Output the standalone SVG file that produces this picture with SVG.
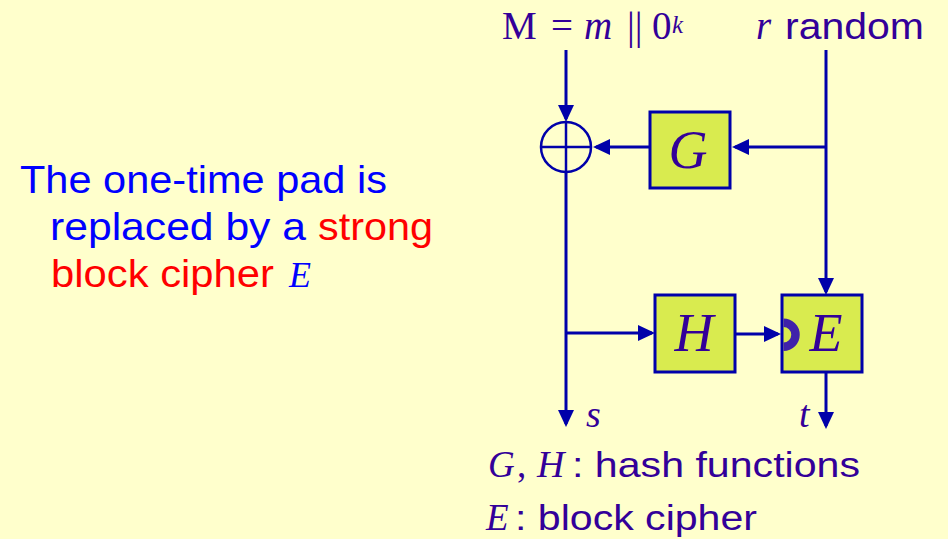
<svg xmlns="http://www.w3.org/2000/svg" width="948" height="539" viewBox="0 0 948 539">
<style>
.sans{font-family:"Liberation Sans",Arial,sans-serif}
.serif{font-family:"Liberation Serif","Times New Roman",serif}
.it{font-style:italic}
.ink{fill:#330099}
.blue{fill:#0000FF}
.red{fill:#FF0000}
.wire{stroke:#0000AA;stroke-width:3;fill:none}
.box{fill:#D9EB4F;stroke:#0000AA;stroke-width:3}
.lbl{font-family:"Liberation Serif","Times New Roman",serif;font-style:italic;font-size:54px;fill:#330099;text-anchor:middle}
</style>
<defs>
<marker id="ah" markerUnits="userSpaceOnUse" markerWidth="17" markerHeight="16" viewBox="0 0 17 16" refX="14" refY="8" orient="auto">
<path d="M0,0 L17,8 L0,16 z" fill="#0000AA"/>
</marker>
</defs>
<rect x="0" y="0" width="948" height="539" fill="#FFFFCC"/>

<g id="caption-left">
<text class="sans blue" x="20" y="193" font-size="39" textLength="367" lengthAdjust="spacingAndGlyphs">The one-time pad is</text>
<text class="sans blue" x="50" y="240" font-size="39" textLength="256" lengthAdjust="spacingAndGlyphs">replaced by a</text>
<text class="sans red" x="318" y="240" font-size="39" textLength="115" lengthAdjust="spacingAndGlyphs">strong</text>
<text class="sans red" x="51" y="287" font-size="39" textLength="223" lengthAdjust="spacingAndGlyphs">block cipher</text>
<text class="serif it blue" x="289" y="287" font-size="36">E</text>
</g>

<g id="input-M">
<text class="serif ink" y="39" font-size="39"><tspan x="502">M</tspan><tspan x="551">=</tspan><tspan x="584" font-style="italic">m</tspan><tspan x="627">||</tspan><tspan x="652">0</tspan><tspan x="672" y="33" font-size="25" font-style="italic">k</tspan></text>
</g>

<g id="input-r">
<text class="serif it ink" x="756" y="39" font-size="39">r</text>
<text class="sans ink" x="785" y="39" font-size="36" textLength="139" lengthAdjust="spacingAndGlyphs">random</text>
</g>

<g id="connectors">
<line class="wire" x1="566" y1="50" x2="566" y2="119" marker-end="url(#ah)"/>
<line class="wire" x1="566" y1="172" x2="566" y2="424" marker-end="url(#ah)"/>
<line class="wire" x1="650" y1="147" x2="596" y2="147" marker-end="url(#ah)"/>
<line class="wire" x1="826" y1="50" x2="826" y2="292" marker-end="url(#ah)"/>
<line class="wire" x1="826" y1="147" x2="735" y2="147" marker-end="url(#ah)"/>
<line class="wire" x1="566" y1="333" x2="652" y2="333" marker-end="url(#ah)"/>
<line class="wire" x1="735" y1="334" x2="778" y2="334" marker-end="url(#ah)"/>
<line class="wire" x1="826" y1="372" x2="826" y2="426" marker-end="url(#ah)"/>
</g>

<g id="xor">
<circle cx="566" cy="147" r="25" fill="none" stroke="#0000AA" stroke-width="2.5"/>
<line x1="541" y1="147" x2="591" y2="147" stroke="#0000AA" stroke-width="2.5"/>
<line x1="566" y1="122" x2="566" y2="172" stroke="#0000AA" stroke-width="2.5"/>
</g>

<g id="node-G">
<rect class="box" x="650" y="112" width="80" height="76"/>
<text class="lbl" x="688" y="168">G</text>
</g>

<g id="node-H">
<rect class="box" x="655" y="295" width="80" height="77"/>
<text class="lbl" x="694" y="351">H</text>
</g>

<g id="node-E">
<rect class="box" x="782" y="295" width="80" height="77"/>
<path d="M783.5,322.7 A12,12 0 0 1 783.5,346.7" fill="none" stroke="#3F22AA" stroke-width="8.5"/>
<text class="lbl" x="826" y="351">E</text>
</g>

<g id="output-labels">
<text class="serif it ink" x="586" y="427" font-size="38">s</text>
<text class="serif it ink" x="799" y="427" font-size="38">t</text>
</g>

<g id="legend">
<text class="serif it ink" x="488" y="477" font-size="37">G</text>
<text class="serif ink" x="517" y="477" font-size="37">,</text>
<text class="serif it ink" x="537" y="477" font-size="38">H</text>
<text class="sans ink" x="572" y="477" font-size="35" textLength="288" lengthAdjust="spacingAndGlyphs">: hash functions</text>
<text class="serif it ink" x="486" y="530" font-size="37">E</text>
<text class="sans ink" x="515" y="530" font-size="35" textLength="242" lengthAdjust="spacingAndGlyphs">: block cipher</text>
</g>
</svg>
